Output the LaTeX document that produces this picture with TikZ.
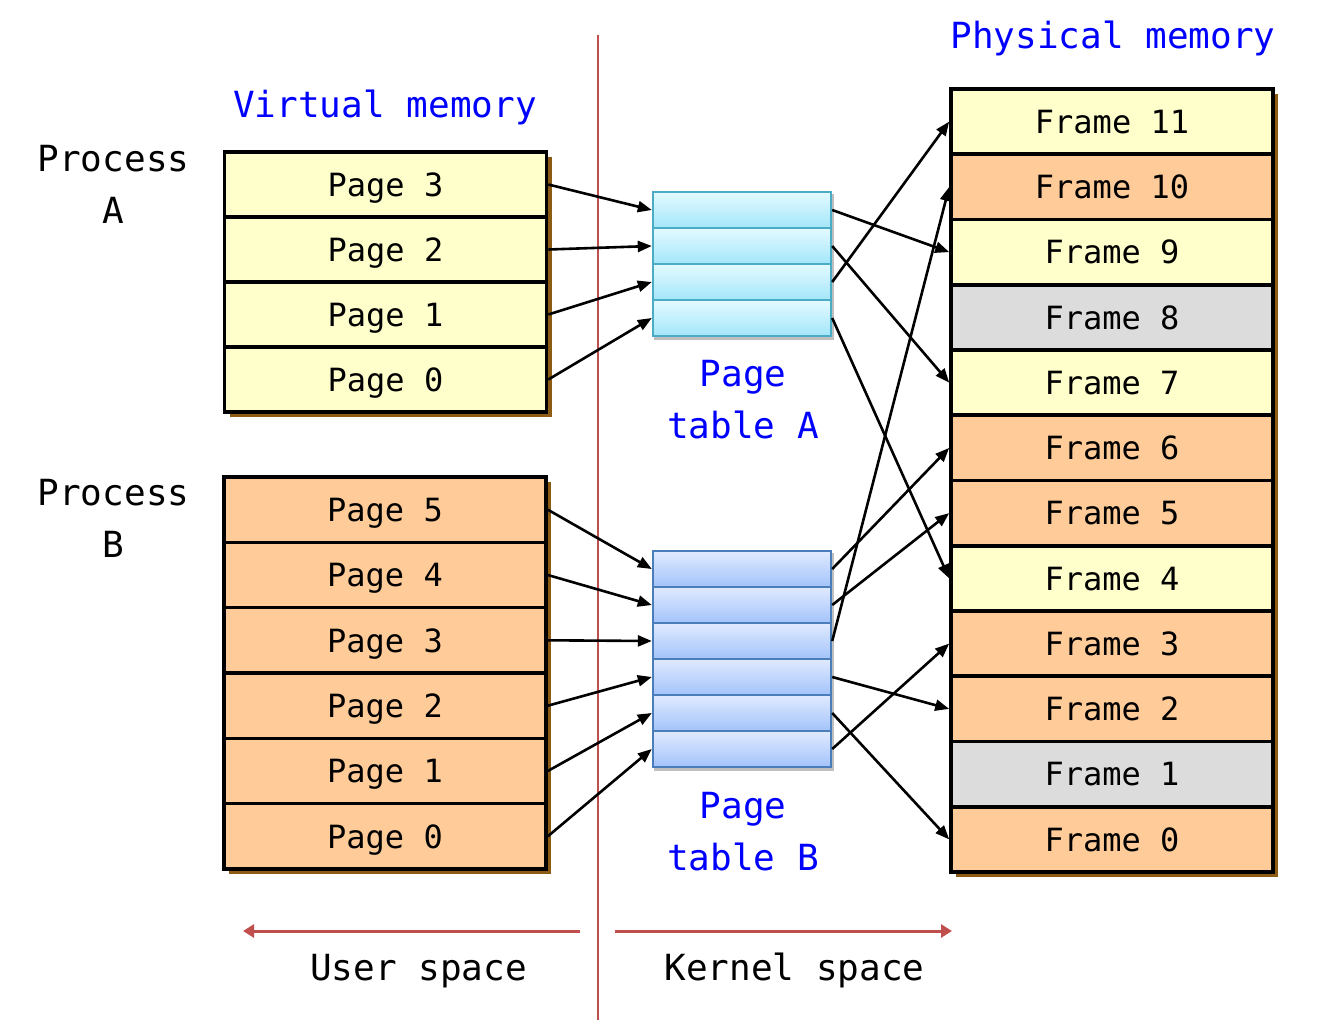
\documentclass[tikz,border=0pt]{standalone}
\usepackage{fontspec}
\setmonofont{DejaVu Sans Mono}
\usetikzlibrary{arrows.meta,shadows,fit,backgrounds}

\definecolor{pageyellow}{HTML}{FFFFCC}
\definecolor{pageorange}{HTML}{FFCC99}
\definecolor{pagegray}{HTML}{DCDCDC}
\definecolor{shadowbrown}{HTML}{8C5C14}
\definecolor{tabcyanline}{HTML}{4BACC6}
\definecolor{tabcyantop}{HTML}{E4FAFF}
\definecolor{tabcyanbot}{HTML}{A2E6FA}
\definecolor{tabblueline}{HTML}{4A7EBB}
\definecolor{tabbluetop}{HTML}{E0EAFF}
\definecolor{tabbluebot}{HTML}{A3C3FA}
\definecolor{spacered}{HTML}{C0504D}
\definecolor{titleblue}{HTML}{0000FF}

\tikzset{
	rowtext/.style={font=\ttfamily\fontsize{32}{38}\selectfont, text=black, text depth=0pt},
	bigtext/.style={font=\ttfamily\fontsize{36}{52}\selectfont, align=center},
	membox/.style={rowtext, draw=black, line width=3.6pt, shape=rectangle, minimum width=322pt, minimum height=65.3pt,
		drop shadow={shadow xshift=5pt, shadow yshift=-5pt, fill=shadowbrown, opacity=1}},
	entryA/.style={draw=tabcyanline, line width=2.4pt, shape=rectangle, minimum width=178pt, minimum height=36pt,
		top color=tabcyantop, bottom color=tabcyanbot},
	entryB/.style={draw=tabblueline, line width=2.4pt, shape=rectangle, minimum width=178pt, minimum height=36pt,
		top color=tabbluetop, bottom color=tabbluebot},
	tabshadow/.style={fill=white, inner sep=0pt,
		drop shadow={shadow xshift=2pt, shadow yshift=-3pt, fill=black, opacity=0.25}},
	maparrow/.style={draw=black, line width=2.6pt, -{Triangle[length=14pt, width=11pt]}},
	spacearrow/.style={draw=spacered, line width=3pt, -{Triangle[length=11pt, width=13pt]}}
}

\begin{document}
\begin{tikzpicture}[x=1pt, y=-1pt]
	\useasboundingbox (0,0) rectangle (1318,1020);

	% user / kernel split
	\coordinate (div_top) at (598,35);
	\coordinate (div_bot) at (598,1020);
	\draw[draw=spacered, line width=2.4pt] (div_top) -- (div_bot);

	% titles
	\node[bigtext, text=titleblue, anchor=base] (vm_title) at (385,117) {Virtual memory};
	\node[bigtext, text=titleblue, anchor=base] (pm_title) at (1113,48) {Physical memory};
	\node[bigtext, text=black] (proc_a) at (113.5,184.6) {Process\\A};
	\node[bigtext, text=black] (proc_b) at (113.5,518.6) {Process\\B};

	% process A pages
	\node[membox, fill=pageyellow] (pa_3) at (385.5,184.5) {Page 3};
	\node[membox, fill=pageyellow] (pa_2) at (385.5,249.5) {Page 2};
	\node[membox, fill=pageyellow] (pa_1) at (385.5,314.5) {Page 1};
	\node[membox, fill=pageyellow] (pa_0) at (385.5,379.5) {Page 0};

	% process B pages
	\node[membox, fill=pageorange] (pb_5) at (385,509.7) {Page 5};
	\node[membox, fill=pageorange] (pb_4) at (385,575.0) {Page 4};
	\node[membox, fill=pageorange] (pb_3) at (385,640.3) {Page 3};
	\node[membox, fill=pageorange] (pb_2) at (385,705.7) {Page 2};
	\node[membox, fill=pageorange] (pb_1) at (385,771.0) {Page 1};
	\node[membox, fill=pageorange] (pb_0) at (385,836.3) {Page 0};

	% page table A
	\node[entryA] (ta_0) at (742,210) {};
	\node[entryA] (ta_1) at (742,246) {};
	\node[entryA] (ta_2) at (742,282) {};
	\node[entryA] (ta_3) at (742,318) {};
	\node[bigtext, text=titleblue] (ta_label) at (743,399.3) {Page\\table A};

	% page table B
	\node[entryB] (tb_0) at (742,569) {};
	\node[entryB] (tb_1) at (742,605) {};
	\node[entryB] (tb_2) at (742,641) {};
	\node[entryB] (tb_3) at (742,677) {};
	\node[entryB] (tb_4) at (742,713) {};
	\node[entryB] (tb_5) at (742,749) {};
	\node[bigtext, text=titleblue] (tb_label) at (743,831.3) {Page\\table B};

	\begin{scope}[on background layer]
		\node[tabshadow, fit=(ta_0)(ta_3)] (ta_box) {};
		\node[tabshadow, fit=(tb_0)(tb_5)] (tb_box) {};
	\end{scope}

	% physical frames
	\node[membox, fill=pageyellow] (f_11) at (1112,121.6) {Frame 11};
	\node[membox, fill=pageorange] (f_10) at (1112,186.9) {Frame 10};
	\node[membox, fill=pageyellow] (f_9) at (1112,252.1) {Frame 9};
	\node[membox, fill=pagegray] (f_8) at (1112,317.4) {Frame 8};
	\node[membox, fill=pageyellow] (f_7) at (1112,382.6) {Frame 7};
	\node[membox, fill=pageorange] (f_6) at (1112,447.9) {Frame 6};
	\node[membox, fill=pageorange] (f_5) at (1112,513.1) {Frame 5};
	\node[membox, fill=pageyellow] (f_4) at (1112,578.4) {Frame 4};
	\node[membox, fill=pageorange] (f_3) at (1112,643.6) {Frame 3};
	\node[membox, fill=pageorange] (f_2) at (1112,708.9) {Frame 2};
	\node[membox, fill=pagegray] (f_1) at (1112,774.1) {Frame 1};
	\node[membox, fill=pageorange] (f_0) at (1112,839.4) {Frame 0};

	% pages -> entries
	\draw[maparrow] (pa_3.east) -- (ta_0.west);
	\draw[maparrow] (pa_2.east) -- (ta_1.west);
	\draw[maparrow] (pa_1.east) -- (ta_2.west);
	\draw[maparrow] (pa_0.east) -- (ta_3.west);
	\draw[maparrow] (pb_5.east) -- (tb_0.west);
	\draw[maparrow] (pb_4.east) -- (tb_1.west);
	\draw[maparrow] (pb_3.east) -- (tb_2.west);
	\draw[maparrow] (pb_2.east) -- (tb_3.west);
	\draw[maparrow] (pb_1.east) -- (tb_4.west);
	\draw[maparrow] (pb_0.east) -- (tb_5.west);

	% entries -> frames
	\draw[maparrow] (ta_0.east) -- (f_9.west);
	\draw[maparrow] (ta_1.east) -- (f_7.west);
	\draw[maparrow] (ta_2.east) -- (f_11.west);
	\draw[maparrow] (ta_3.east) -- (f_4.west);
	\draw[maparrow] (tb_0.east) -- (f_6.west);
	\draw[maparrow] (tb_1.east) -- (f_5.west);
	\draw[maparrow] (tb_2.east) -- (f_10.west);
	\draw[maparrow] (tb_3.east) -- (f_2.west);
	\draw[maparrow] (tb_4.east) -- (f_0.west);
	\draw[maparrow] (tb_5.east) -- (f_3.west);

	% space arrows
	\coordinate (us_r) at (580,931);
	\coordinate (us_l) at (243,931);
	\coordinate (ks_l) at (615,931);
	\coordinate (ks_r) at (952,931);
	\draw[spacearrow] (us_r) -- (us_l);
	\draw[spacearrow] (ks_l) -- (ks_r);
	\node[bigtext, text=black, anchor=base] (us_label) at (418.5,980) {User space};
	\node[bigtext, text=black, anchor=base] (ks_label) at (794.5,980) {Kernel space};
\end{tikzpicture}
\end{document}
